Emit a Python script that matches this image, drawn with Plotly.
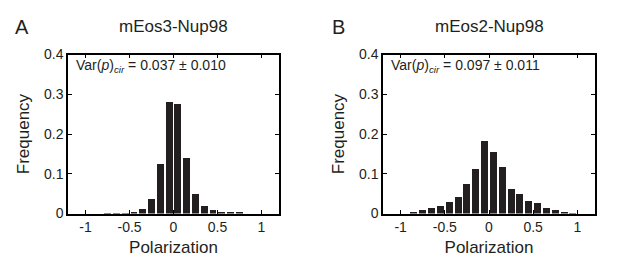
import plotly.graph_objects as go

bin_centers = [-0.95, -0.85, -0.75, -0.65, -0.55, -0.45, -0.35, -0.25, -0.15, -0.05,
               0.05, 0.15, 0.25, 0.35, 0.45, 0.55, 0.65, 0.75, 0.85, 0.95]
freq_a = [0.0, 0.0, 0.002, 0.001, 0.002, 0.004, 0.013, 0.037, 0.127, 0.281,
          0.276, 0.141, 0.050, 0.021, 0.010, 0.005, 0.004, 0.004, 0.0, 0.0]
freq_b = [0.0, 0.004, 0.011, 0.014, 0.019, 0.029, 0.042, 0.076, 0.113, 0.183,
          0.156, 0.119, 0.064, 0.050, 0.033, 0.028, 0.015, 0.010, 0.006, 0.002]
titles = ["mEos3-Nup98", "mEos2-Nup98"]
panel_labels = ["A", "B"]
var_texts = ["Var(<i>p</i>)<sub><i>cir</i></sub> = 0.037 ± 0.010",
             "Var(<i>p</i>)<sub><i>cir</i></sub> = 0.097 ± 0.011"]
x_ticks = [-1, -0.5, 0, 0.5, 1]
x_ticktext = ["-1", "-0.5", "0", "0.5", "1"]
y_ticks = [0, 0.1, 0.2, 0.3, 0.4]
y_ticktext = ["0", "0.1", "0.2", "0.3", "0.4"]

FONT = "Arial, Liberation Sans, Helvetica, sans-serif"
BAR = "#231f20"
TXT = "#231f20"

# page body has an 8px margin; figure drawn at (8,8)
W, H = 609, 270
OFF = 8


def px_x(x):
    return (x - OFF) / W


def px_y(y):
    return 1 - (y - OFF) / H


fig = go.Figure()
xdomains = [[px_x(68), px_x(279)], [px_x(383), px_x(595)]]
ydomain = [px_y(218), px_y(49)]

for i, vals in enumerate([freq_a, freq_b]):
    xa = "x" if i == 0 else "x2"
    ya = "y" if i == 0 else "y2"
    fig.add_trace(go.Bar(x=bin_centers, y=vals, width=0.078, marker_color=BAR,
                         marker_line_width=0, xaxis=xa, yaxis=ya, showlegend=False))

axis_common = dict(showline=True, linecolor="black", linewidth=1.5, mirror="ticks",
                   ticks="inside", ticklen=4, tickwidth=1, tickcolor="black",
                   showgrid=False, zeroline=False,
                   tickfont=dict(family=FONT, size=14, color=TXT))

for i in range(2):
    sx = "" if i == 0 else "2"
    fig.layout["xaxis" + sx] = dict(domain=xdomains[i], range=[-1.2, 1.2],
                                    tickvals=x_ticks, ticktext=x_ticktext,
                                    anchor="y" + sx,
                                    title=dict(text="Polarization", standoff=7,
                                               font=dict(family=FONT, size=17, color=TXT)),
                                    **axis_common)
    fig.layout["yaxis" + sx] = dict(domain=ydomain, range=[0, 0.4],
                                    tickvals=y_ticks, ticktext=y_ticktext,
                                    anchor="x" + sx,
                                    title=dict(text="Frequency", standoff=10,
                                               font=dict(family=FONT, size=17, color=TXT)),
                                    **axis_common)
    xc = (xdomains[i][0] + xdomains[i][1]) / 2
    fig.add_annotation(text=titles[i], x=xc, y=px_y(19), xref="paper", yref="paper",
                       showarrow=False, xanchor="center", yanchor="middle",
                       font=dict(family=FONT, size=17, color=TXT))
    fig.add_annotation(text=panel_labels[i], x=px_x(13 if i == 0 else 330), y=px_y(20),
                       xref="paper", yref="paper", showarrow=False,
                       xanchor="left", yanchor="middle",
                       font=dict(family=FONT, size=20, color=TXT))
    fig.add_annotation(text=var_texts[i], x=-1.13, y=0.4, xref="x" + sx, yref="y" + sx,
                       showarrow=False, xanchor="left", yanchor="top",
                       font=dict(family=FONT, size=14, color=TXT))

fig.update_layout(width=W, height=H, margin=dict(l=0, r=0, t=0, b=0),
                  paper_bgcolor="white", plot_bgcolor="white", bargap=0)

fig.write_html("out.html")
